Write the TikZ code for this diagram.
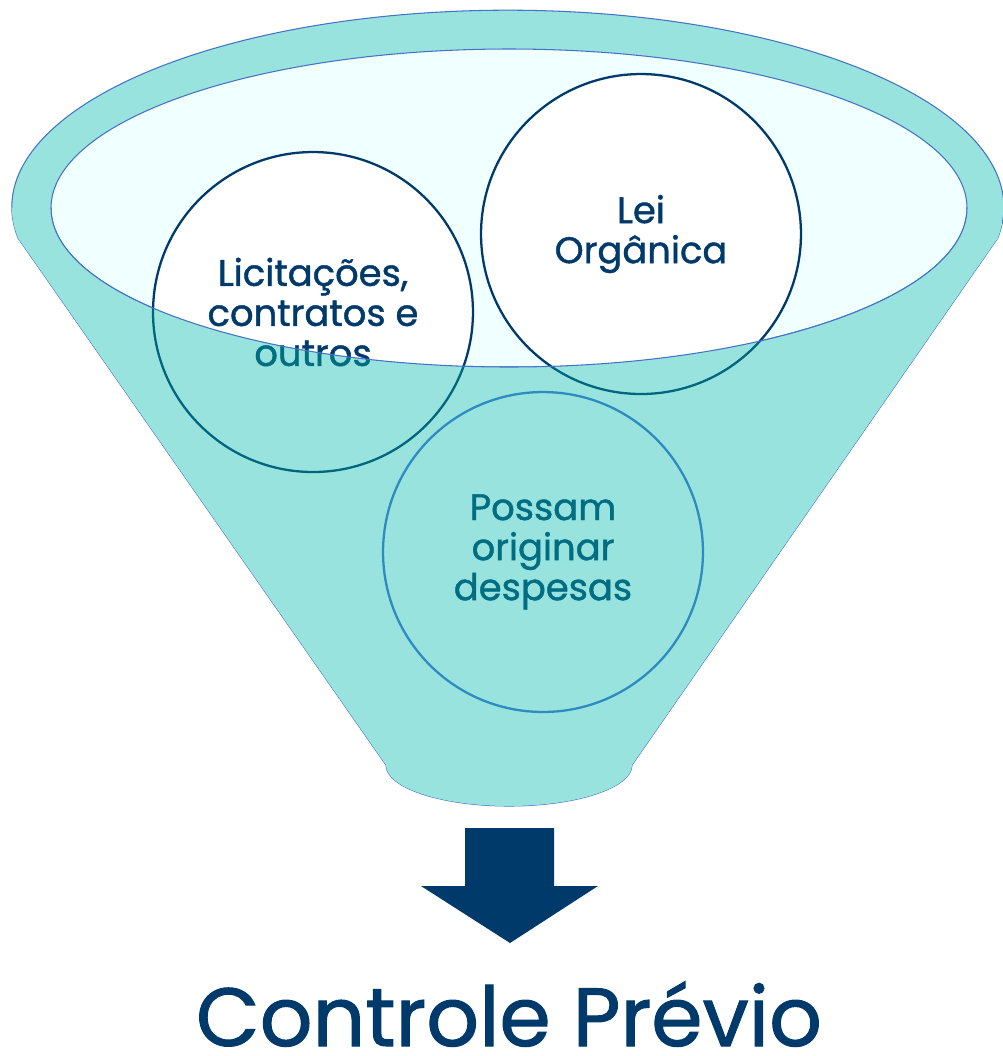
\documentclass[tikz,border=0pt]{standalone}
\usepackage{fontspec}
\setmainfont{Poppins}
\newfontfamily\HeavyFont[FakeBold=1.2]{Poppins}
\usepackage{tikz}
\usetikzlibrary{calc,positioning}
\definecolor{FunnelTeal}{HTML}{99E3DF}
\definecolor{RimBlue}{HTML}{4472C4}
\definecolor{MouthAzure}{HTML}{F0FFFF}
\definecolor{DeepNavy}{HTML}{003A6B}
\definecolor{DarkTeal}{HTML}{006E82}
\definecolor{EdgeTeal}{HTML}{00667E}
\definecolor{SkyLine}{HTML}{2E8BC0}
\newcommand{\CircleFont}{\HeavyFont\fontsize{21}{22.8}\selectfont}
\newcommand{\TitleFont}{\HeavyFont\fontsize{47}{50}\selectfont}
\tikzstyle{Funnel} = [fill=FunnelTeal, draw=RimBlue, line width=0.6pt]
\tikzstyle{Mouth} = [fill=MouthAzure, draw=RimBlue, line width=0.6pt]
\tikzstyle{CircleBox} = [circle, draw=DeepNavy, fill=white, line width=1.3pt,
    minimum size=6.4cm, inner sep=0pt, align=center, text=DeepNavy, font=\CircleFont]
\tikzstyle{FrontText} = [align=center, text=DarkTeal, font=\CircleFont]
\tikzstyle{FrontEdge} = [draw=EdgeTeal, line width=1.3pt]

\begin{document}
\begin{tikzpicture}[x=0.02cm, y=-0.02cm]
        \useasboundingbox (0,0) rectangle (1002,1056);
        \draw [Funnel] (18,238) arc[start angle=171, end angle=369, x radius=496, y radius=197]
            -- (632,765) arc[start angle=0, end angle=180, x radius=123, y radius=41] -- cycle; %funnel body
        \draw [Mouth] (509,208) ellipse [x radius=458, y radius=159]; %mouth
        \node [CircleBox] (Licitacoes) at (313,312) {Licitações,\\contratos e\\outros};
        \node [CircleBox] (LeiOrganica) at (641,234) {Lei\\Orgânica};
        \begin{scope}
            \clip (0,208) -- (51,208) arc[start angle=180, end angle=0, x radius=458, y radius=159]
                -- (1002,208) -- (1002,1056) -- (0,1056) -- cycle; %below the lip
            \clip (18,238) arc[start angle=171, end angle=369, x radius=496, y radius=197]
                -- (632,765) arc[start angle=0, end angle=180, x radius=123, y radius=41] -- cycle;
            \fill [FunnelTeal] (0,0) rectangle (1002,1056);
            \draw [FrontEdge] (Licitacoes) circle [radius=160];
            \draw [FrontEdge] (LeiOrganica) circle [radius=160];
            \node [FrontText] at (Licitacoes) {Licitações,\\contratos e\\outros};
        \end{scope}
        \draw [RimBlue, line width=0.6pt] (51,208) arc[start angle=180, end angle=0, x radius=458, y radius=159]; %front lip
        \node [CircleBox, draw=SkyLine, fill=FunnelTeal, text=DarkTeal] (Possam) at (543,552) {Possam\\originar\\despesas};
        \fill [DeepNavy] (465,828) -- (554,828) -- (554,886) -- (598,886) -- (510,943) -- (421,886) -- (465,886) -- cycle; %down arrow
        \node [anchor=base, inner sep=0pt, text=DeepNavy, font=\TitleFont] (Titulo) at (509,1046) {Controle Prévio};
    \end{tikzpicture}
\end{document}
